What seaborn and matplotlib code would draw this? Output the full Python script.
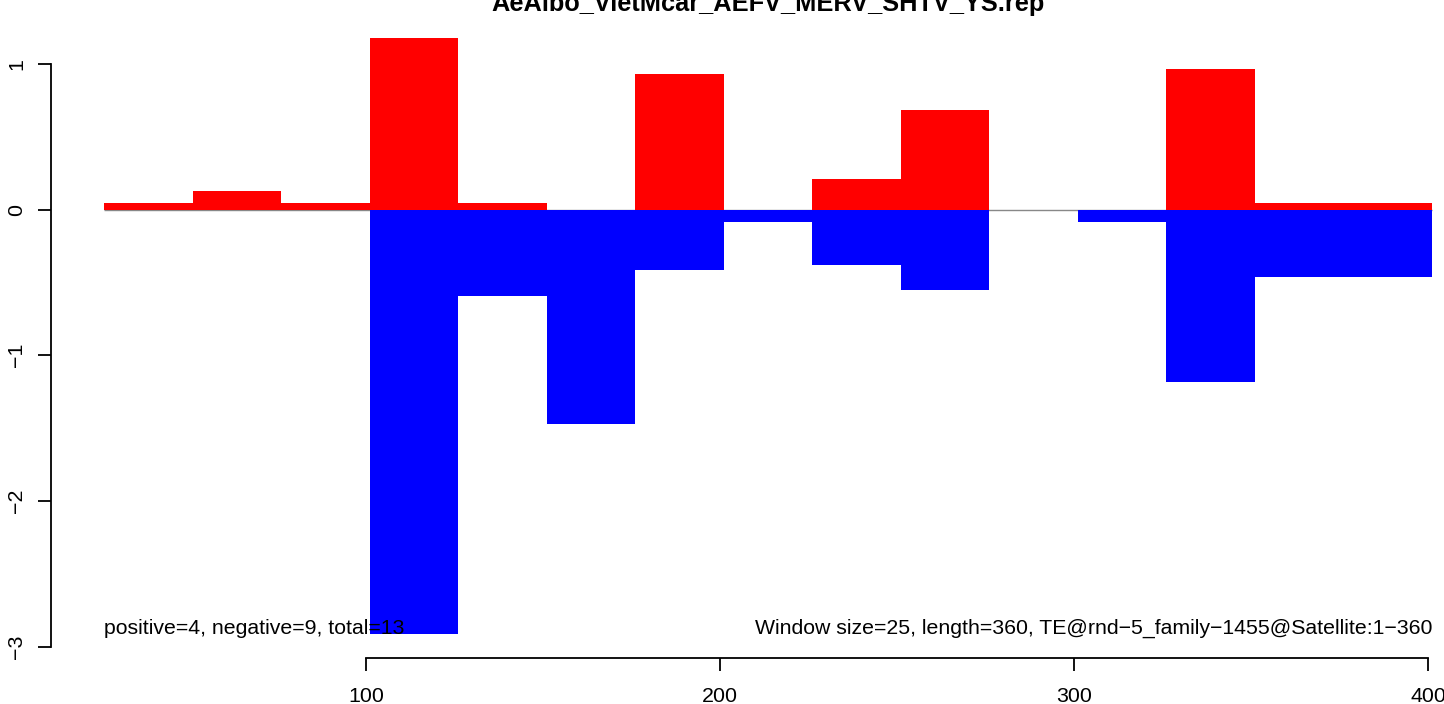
import numpy as np
import pandas as pd
import matplotlib
matplotlib.use("Agg")
import matplotlib.pyplot as plt
import seaborn as sns

# ---- data ----
window_starts = [26, 51, 76, 101, 126, 151, 176, 201, 226, 251, 276, 301, 326, 351, 376]
window_size = 25
pos_values = [0.043, 0.125, 0.043, 1.18, 0.043, 0.0, 0.927, 0.0, 0.21, 0.68, 0.0, 0.0, 0.965, 0.043, 0.043]
neg_values = [0.0, 0.0, 0.0, -2.91, -0.594, -1.47, -0.416, -0.087, -0.38, -0.55, 0.0, -0.087, -1.18, -0.46, -0.46]
y_ticks = [-3, -2, -1, 0, 1]
x_ticks = [100, 200, 300, 400]
title = "AeAlbo_VietMcar_AEFV_MERV_SHTV_YS.rep"
left_note = "positive=4, negative=9, total=13"
right_note = "Window size=25, length=360, TE@rnd\u22125_family\u22121455@Satellite:1\u2212360"

sns.set_style("white")
plt.rcParams["font.family"] = ["Liberation Sans", "DejaVu Sans"]
plt.rcParams["text.color"] = "black"
plt.rcParams["axes.labelcolor"] = "black"

centers = [s + window_size / 2 for s in window_starts]
df = pd.DataFrame({"x": centers, "pos": pos_values, "neg": neg_values})

fig = plt.figure(figsize=(14.44, 7.04), dpi=100)
ax = fig.add_axes([51 / 1444, 1 - 657.5 / 704, 1434 / 1444, (657.5 - 13.7) / 704])

edges_lo = window_starts[0]
edges_hi = window_starts[-1] + window_size
ax.hlines(0, edges_lo, edges_hi, color="#888888", linewidth=1.0, zorder=1)

sns.barplot(data=df, x="x", y="pos", native_scale=True, width=1.0, color="#FF0000",
            saturation=1, linewidth=0, edgecolor="none", ax=ax, zorder=2)
sns.barplot(data=df, x="x", y="neg", native_scale=True, width=1.0, color="#0000FF",
            saturation=1, linewidth=0, edgecolor="none", ax=ax, zorder=2)

span = edges_hi - edges_lo
ax.set_xlim(edges_lo - 0.04 * span, edges_hi + 0.04 * span)
ymin, ymax = min(neg_values), max(pos_values)
yspan = ymax - ymin
ax.set_ylim(ymin - 0.04 * yspan, ymax + 0.04 * yspan)

ax.set_xticks(x_ticks)
ax.set_xticklabels([str(t) for t in x_ticks])
ax.set_yticks(y_ticks)
ax.set_yticklabels([str(t).replace("-", "\u2212") for t in y_ticks], rotation=90, va="center")
ax.set_xlabel("")
ax.set_ylabel("")

for s in ["top", "right"]:
    ax.spines[s].set_visible(False)
ax.spines["left"].set_bounds(y_ticks[0], y_ticks[-1])
ax.spines["bottom"].set_bounds(x_ticks[0], x_ticks[-1])
for s in ["left", "bottom"]:
    ax.spines[s].set_linewidth(1.3)
    ax.spines[s].set_color("black")

ax.tick_params(axis="both", direction="out", length=9.6, width=1.3, color="black",
               labelsize=15.4, labelcolor="black", bottom=True, left=True)
ax.tick_params(axis="x", pad=12.0)
ax.tick_params(axis="y", pad=8.4)

ax.text(edges_lo, ymin, left_note, ha="left", va="baseline", fontsize=15.3, color="black", zorder=3)
ax.text(edges_hi, ymin, right_note, ha="right", va="baseline", fontsize=15.3, color="black", zorder=3)

fig.text(768 / 1444, 1 - 11 / 704, title, ha="center", va="baseline",
         fontsize=18.3, fontweight="bold", color="black")

fig.savefig("out.png", dpi=100)
